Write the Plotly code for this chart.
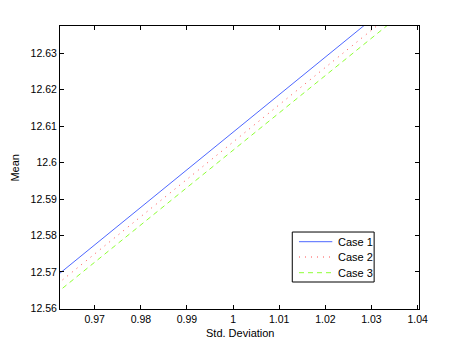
import plotly.graph_objects as go

# Std. deviation / mean pairs
std_dev = [0.96, 0.98, 1.00, 1.02, 1.04]
case1 = [12.5671, 12.5877, 12.6083, 12.6289, 12.6496]
case2 = [12.5647, 12.5852, 12.6057, 12.6261, 12.6466]
case3 = [12.5624, 12.5829, 12.6034, 12.6239, 12.6444]
names = ["Case 1", "Case 2", "Case 3"]

colors = ["#2040ff", "#ff2020", "#70ff00"]
dashes = ["solid", "1px,5px", "5px,4px"]

fig = go.Figure()
for ys, name, c, d in zip([case1, case2, case3], names, colors, dashes):
    fig.add_trace(go.Scatter(x=std_dev, y=ys, mode="lines", name=name,
                             line=dict(color=c, width=0.8, dash=d),
                             showlegend=False, hoverinfo="skip"))

axis_style = dict(
    showline=True, linecolor="black", linewidth=1, mirror="ticks",
    ticks="inside", ticklen=4, tickcolor="black", showgrid=False,
    zeroline=False, automargin=False, tickfont=dict(size=10.5, color="black"),
)

# MATLAB-style legend box drawn by hand
legend_rows = [0.2378, 0.1837, 0.1283]
shapes = [dict(type="rect", xref="paper", yref="paper", x0=0.647, x1=0.875,
               y0=0.0954, y1=0.272, line=dict(color="black", width=1),
               fillcolor="white", layer="above")]
annotations = []
for yy, name, c, d in zip(legend_rows, names, colors, dashes):
    shapes.append(dict(type="line", xref="paper", yref="paper", x0=0.6657, x1=0.7585,
                       y0=yy, y1=yy, line=dict(color=c, width=0.8, dash=d), layer="above"))
    annotations.append(dict(text=name, xref="paper", yref="paper", x=0.7677, y=yy,
                            xanchor="left", yanchor="middle", showarrow=False,
                            font=dict(size=11)))

annotations.append(dict(text="Std. Deviation", xref="paper", yref="paper",
                        x=0.5, y=-24 / 283, xanchor="center", yanchor="middle",
                        showarrow=False, font=dict(size=11)))
annotations.append(dict(text="Mean", xref="paper", yref="paper", textangle=-90,
                        x=-46 / 359.5, y=0.5, xanchor="center", yanchor="middle",
                        showarrow=False, font=dict(size=11)))

fig.update_layout(
    width=463, height=348,
    margin=dict(l=60, r=43.5, t=26, b=39),
    paper_bgcolor="white", plot_bgcolor="white",
    font=dict(family="Liberation Sans, Arial, sans-serif", size=11, color="black"),
    xaxis=dict(range=[0.96247, 1.0403], dtick=0.01, tick0=0.97, **axis_style),
    yaxis=dict(range=[12.5598, 12.6375], dtick=0.01, tick0=12.56, **axis_style),
    shapes=shapes,
    annotations=annotations,
    showlegend=False,
)

# drop the browser's default body margin so the figure sits at the page origin
fig.write_html("out.html", config={"displayModeBar": False},
               post_script="document.body.style.margin='0';")
